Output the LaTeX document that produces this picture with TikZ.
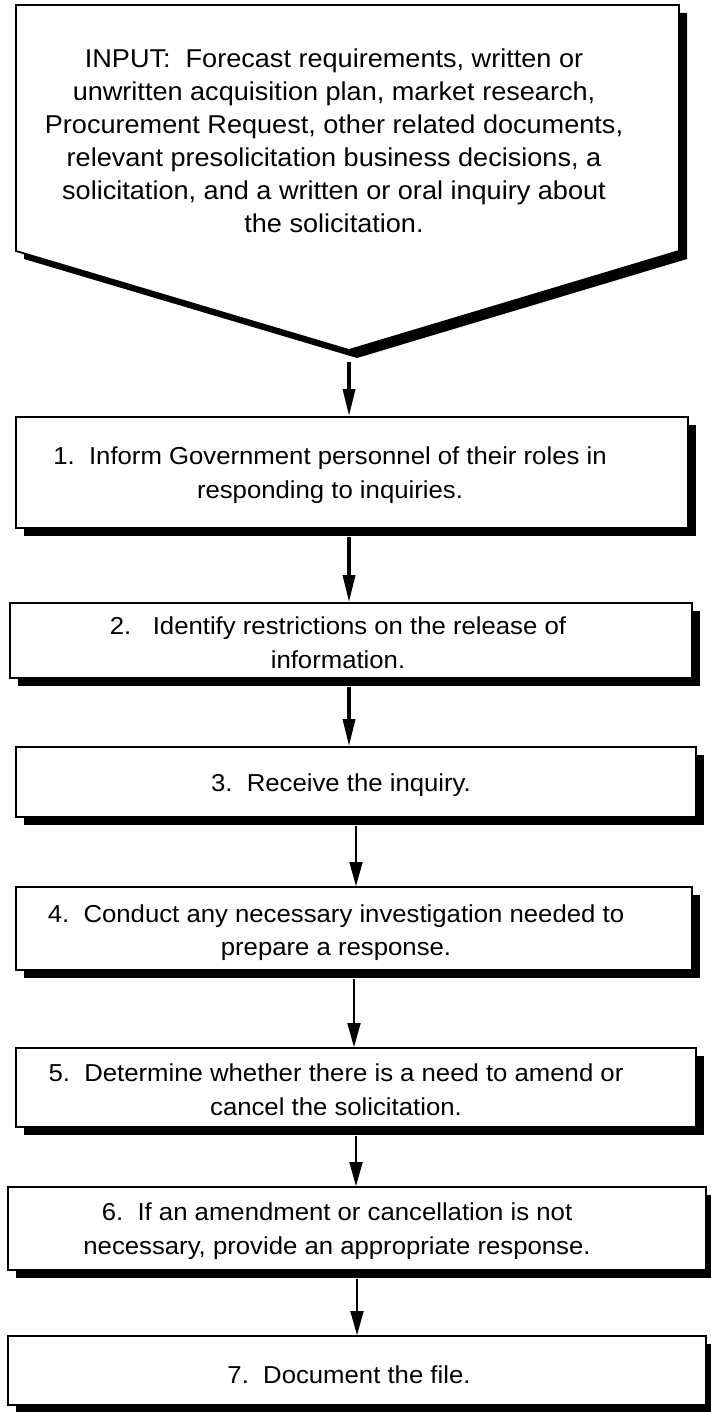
\documentclass[tikz,border=0pt]{standalone}
\usepackage{fontspec}
\setmainfont[FakeStretch=1.05]{Liberation Sans}
\usetikzlibrary{arrows.meta,shadows}
\tikzset{
    stepbox/.style={draw, line width=1.8pt, fill=white, inner sep=0pt,
        drop shadow={shadow xshift=8pt, shadow yshift=-8pt, fill=black, opacity=1}},
    steptext/.style={align=center, inner sep=0pt, font=\fontsize{24.5}{33.5}\selectfont},
    thickflow/.style={line width=3.5pt, -{Triangle[length=27pt,width=12pt]}},
    thinflow/.style={line width=1.8pt, -{Triangle[length=24pt,width=13pt]}},
}

\begin{document}
\begin{tikzpicture}[x=1pt,y=-1pt]
\useasboundingbox (0,0) rectangle (711,1412);
\draw[stepbox] (16,5) -- (679,5) -- (679,251) -- (349,350) -- (16,251) -- cycle;
\coordinate (tip) at (349,350);
\node[steptext, font=\fontsize{25.8}{33}\selectfont] (input) at (334,141) {INPUT:\ \ Forecast requirements, written or\\
unwritten acquisition plan, market research,\\
Procurement Request, other related documents,\\
relevant presolicitation business decisions, a\\
solicitation, and a written or oral inquiry about\\
the solicitation.};

\node[stepbox, minimum width=672pt, minimum height=111pt] (b1) at (352,472.5) {};
\node[stepbox, minimum width=682pt, minimum height=75pt] (b2) at (351,640.5) {};
\node[stepbox, minimum width=680pt, minimum height=70pt] (b3) at (356,782) {};
\node[stepbox, minimum width=676pt, minimum height=83pt] (b4) at (354,928.5) {};
\node[stepbox, minimum width=680pt, minimum height=79pt] (b5) at (356,1087.5) {};
\node[stepbox, minimum width=698pt, minimum height=83pt] (b6) at (357,1228.5) {};
\node[stepbox, minimum width=698pt, minimum height=69pt] (b7) at (357,1370.5) {};

\node[steptext] (t1) at (330,475) {1.\ \ Inform Government personnel of their roles in\\responding to inquiries.};
\node[steptext] (t2) at (338,642.5) {2.\ \ \ Identify restrictions on the release of\\information.};
\node[steptext] (t3) at (341,785) {3.\ \ Receive the inquiry.};
\node[steptext] (t4) at (336,932.5) {4.\ \ Conduct any necessary investigation needed to\\prepare a response.};
\node[steptext] (t5) at (336,1089.5) {5.\ \ Determine whether there is a need to amend or\\cancel the solicitation.};
\node[steptext] (t6) at (337,1231) {6.\ \ If an amendment or cancellation is not\\necessary, provide an appropriate response.};
\node[steptext] (t7) at (349,1375) {7.\ \ Document the file.};

\draw[thickflow] ([yshift=-12pt]tip) -- (tip |- b1.north);
\draw[thickflow] (tip |- b1.south) ++(0,8) -- (tip |- b2.north);
\draw[thickflow] (tip |- b2.south) ++(0,8) -- (tip |- b3.north);
\draw[thinflow] ([yshift=-8pt]b3.south) -- (b3.south |- b4.north);
\draw[thinflow] ([yshift=-8pt]b4.south) -- (b4.south |- b5.north);
\draw[thinflow] ([yshift=-8pt]b5.south) -- (b5.south |- b6.north);
\draw[thinflow] ([yshift=-8pt]b6.south) -- (b6.south |- b7.north);
\end{tikzpicture}
\end{document}
